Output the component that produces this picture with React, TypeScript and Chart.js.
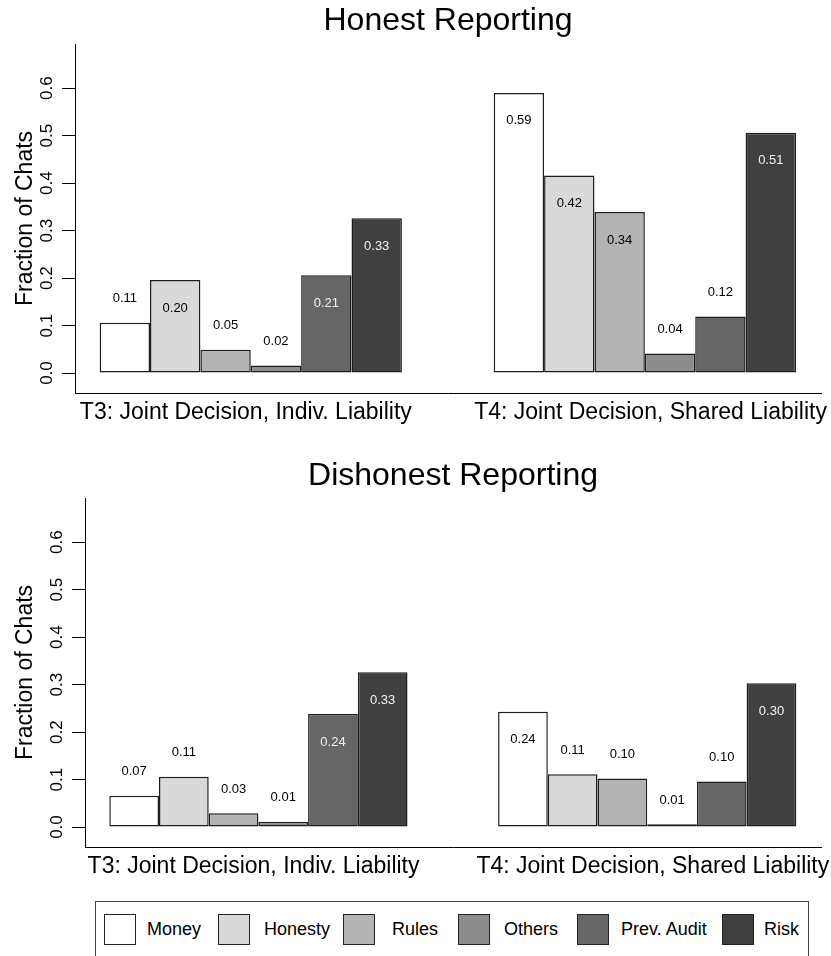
import React, { useEffect, useRef } from "react";
import { Chart, registerables } from "chart.js";

Chart.register(...registerables);

const FONT = '"Liberation Sans", Arial, Helvetica, sans-serif';

const CATEGORIES = [
  "T3: Joint Decision, Indiv. Liability",
  "T4: Joint Decision, Shared Liability",
];
const SERIES = ["Money", "Honesty", "Rules", "Others", "Prev. Audit", "Risk"];
const COLORS = ["#ffffff", "#d9d9d9", "#b3b3b3", "#8c8c8c", "#666666", "#404040"];
const Y_TICKS = [0, 0.1, 0.2, 0.3, 0.4, 0.5, 0.6];

// values per series (Money, Honesty, Rules, Others, Prev. Audit, Risk)
const HONEST_T3 = [0.106, 0.196, 0.049, 0.016, 0.206, 0.326];
const HONEST_T4 = [0.59, 0.416, 0.339, 0.041, 0.119, 0.506];
const DISHONEST_T3 = [0.066, 0.106, 0.029, 0.011, 0.238, 0.326];
const DISHONEST_T4 = [0.243, 0.111, 0.102, 0.006, 0.096, 0.303];

const Y_MIN = -0.042;
const Y_MAX = 0.693;
const X_MIN = -0.446;
const X_MAX = 1.447;
const GROUP_FRACTION = 0.767;
const INSIDE_THRESHOLD = 0.15;
// where the group names sit on the x scale (slightly outward of the group centres, as in R)
const CATEGORY_LABEL_POS = [-0.0125, 1.0145];

const valueLabels = {
  id: "valueLabels",
  afterDatasetsDraw(chart: any) {
    const ctx = chart.ctx;
    ctx.save();
    ctx.font = `13px ${FONT}`;
    ctx.textAlign = "center";
    ctx.textBaseline = "middle";
    chart.data.datasets.forEach((ds: any, di: number) => {
      const meta = chart.getDatasetMeta(di);
      meta.data.forEach((bar: any, i: number) => {
        const v = ds.data[i].y;
        const inside = v >= INSIDE_THRESHOLD;
        ctx.fillStyle = inside && di >= 4 ? "#f2f2f2" : "#000000";
        ctx.fillText(v.toFixed(2), bar.x, inside ? bar.y + 28 : bar.y - 24);
      });
    });
    ctx.restore();
  },
};

type PanelProps = {
  title: string;
  t3: number[];
  t4: number[];
  height: number;
  axisLeft: number;
  plotTop: number;
  plotBottom: number;
  titlePadTop: number;
};

function Panel({ title, t3, t4, height, axisLeft, plotTop, plotBottom, titlePadTop }: PanelProps) {
  const ref = useRef<HTMLCanvasElement>(null);
  useEffect(() => {
    if (!ref.current) return;
    const titleLine = 32 * 1.2;
    const datasets = SERIES.map((name, i) => ({
      label: name,
      data: [
        { x: 0, y: t3[i] },
        { x: 1, y: t4[i] },
      ],
      backgroundColor: COLORS[i],
      borderColor: "#1e1e1e",
      borderWidth: 1.5,
      borderSkipped: false as any,
      barPercentage: 1,
      categoryPercentage: GROUP_FRACTION,
    }));
    const chart = new Chart(ref.current, {
      type: "bar",
      data: { datasets },
      plugins: [valueLabels],
      options: {
        animation: false,
        responsive: false,
        devicePixelRatio: 1,
        layout: { padding: { left: 0, right: 10, top: 0, bottom: 0 } },
        plugins: {
          legend: { display: false },
          tooltip: { enabled: false },
          title: {
            display: true,
            text: title,
            fullSize: false,
            color: "#000000",
            font: { family: FONT, size: 32, weight: "normal" as any, lineHeight: 1.2 },
            padding: { top: titlePadTop, bottom: plotTop - titlePadTop - titleLine },
          },
        },
        scales: {
          x: {
            type: "linear",
            offset: false,
            min: X_MIN,
            max: X_MAX,
            afterBuildTicks: (s: any) => {
              s.ticks = CATEGORY_LABEL_POS.map((v) => ({ value: v }));
            },
            afterFit: (s: any) => {
              s.height = height - plotBottom;
              s.paddingLeft = 0;
              s.paddingRight = 0;
            },
            grid: { display: false, drawTicks: false, offset: false },
            border: { display: true, color: "#000000", width: 1 },
            ticks: {
              autoSkip: false,
              maxRotation: 0,
              minRotation: 0,
              padding: 6,
              color: "#000000",
              font: { family: FONT, size: 23 },
              callback: (_v: any, i: number) => CATEGORIES[i],
            },
          },
          y: {
            type: "linear",
            min: Y_MIN,
            max: Y_MAX,
            afterBuildTicks: (s: any) => {
              s.ticks = Y_TICKS.map((v) => ({ value: v }));
            },
            afterFit: (s: any) => {
              s.width = axisLeft;
              s.paddingTop = 0;
              s.paddingBottom = 0;
            },
            grid: {
              display: true,
              drawOnChartArea: false,
              drawTicks: true,
              tickLength: 13,
              color: "#000000",
              lineWidth: 1,
            },
            border: { display: true, color: "#000000", width: 1 },
            title: {
              display: true,
              text: "Fraction of Chats",
              color: "#000000",
              font: { family: FONT, size: 23 },
              padding: { top: 12, bottom: 0 },
            },
            ticks: {
              autoSkip: false,
              minRotation: 90,
              maxRotation: 90,
              crossAlign: "center",
              padding: 3,
              color: "#000000",
              font: { family: FONT, size: 17 },
              callback: (v: any) => Number(v).toFixed(1),
            },
          },
        },
      },
    });
    return () => chart.destroy();
  }, [title, t3, t4, height, axisLeft, plotTop, plotBottom, titlePadTop]);
  return (
    <canvas
      ref={ref}
      width={831}
      height={height}
      style={{ display: "block", width: 831, height }}
    />
  );
}

const LEGEND_SWATCH_X = [8, 122, 247, 362, 481, 626];
const LEGEND_TEXT_X = [51, 168, 296, 408, 525, 668];

function Legend() {
  return (
    <div
      style={{
        position: "absolute",
        left: 95,
        top: 901,
        width: 714,
        height: 80,
        border: "1px solid #444",
        boxSizing: "border-box",
        fontFamily: FONT,
        fontSize: 18,
        color: "#000",
      }}
    >
      {SERIES.map((s, i) => (
        <React.Fragment key={s}>
          <div
            style={{
              position: "absolute",
              left: LEGEND_SWATCH_X[i],
              top: 12,
              width: 32,
              height: 31,
              boxSizing: "border-box",
              border: "1px solid #222",
              background: COLORS[i],
            }}
          />
          <div
            style={{
              position: "absolute",
              left: LEGEND_TEXT_X[i],
              top: 12,
              height: 31,
              lineHeight: "31px",
              whiteSpace: "nowrap",
            }}
          >
            {s}
          </div>
        </React.Fragment>
      ))}
    </div>
  );
}

export default function App() {
  return (
    <div
      style={{
        position: "absolute",
        left: 0,
        top: 0,
        width: 831,
        height: 956,
        overflow: "hidden",
        background: "#ffffff",
      }}
    >
      <div style={{ position: "absolute", left: 0, top: 0 }}>
        <Panel
          title="Honest Reporting"
          t3={HONEST_T3}
          t4={HONEST_T4}
          height={445}
          axisLeft={75}
          plotTop={44}
          plotBottom={393}
          titlePadTop={2}
        />
      </div>
      <div style={{ position: "absolute", left: 0, top: 445 }}>
        <Panel
          title="Dishonest Reporting"
          t3={DISHONEST_T3}
          t4={DISHONEST_T4}
          height={450}
          axisLeft={85}
          plotTop={53}
          plotBottom={402}
          titlePadTop={11.8}
        />
      </div>
      <Legend />
    </div>
  );
}
